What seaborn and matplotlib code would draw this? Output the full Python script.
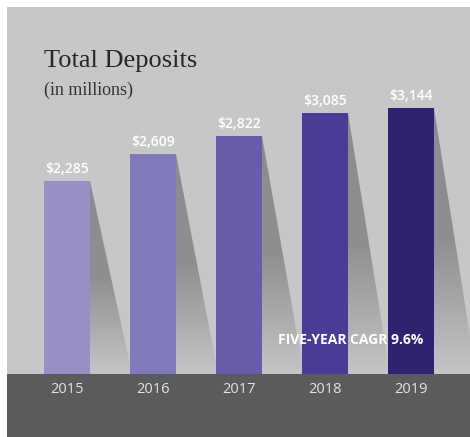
import numpy as np
import pandas as pd
import matplotlib
matplotlib.use("Agg")
import matplotlib.pyplot as plt
from matplotlib.patches import Rectangle, Polygon
from matplotlib.colors import LinearSegmentedColormap
import seaborn as sns

years = ["2015", "2016", "2017", "2018", "2019"]
deposits = [2285, 2609, 2822, 3085, 3144]
bar_colors = ["#9890c5", "#7f7bbb", "#6a5ba9", "#4b3b96", "#2e2271"]
title = "Total Deposits"
subtitle = "(in millions)"
cagr_note = "FIVE-YEAR CAGR 9.6%"

W, H = 470, 437
panel_bg = "#c6c7c9"
band_bg = "#5a5b5d"

sns.set_theme(style="white")
plt.rcParams["font.family"] = ["Open Sans", "DejaVu Sans"]

fig = plt.figure(figsize=(W / 100, H / 100), dpi=100, facecolor="white")

# plot area: gray panel above the dark year band
left, right, top, base = 7, 470, 7, 374
ax = fig.add_axes([left / W, 1 - base / H, (right - left) / W, (base - top) / H])
ax.set_facecolor(panel_bg)

# dark band holding the year labels (kept behind the axes' tick labels)
fig.patches.append(Rectangle((left / W, 0), (right - left) / W, (H - base) / H,
                             transform=fig.transFigure, facecolor=band_bg,
                             edgecolor="none", zorder=-1))

df = pd.DataFrame({"year": years, "deposits": deposits})
bar_w = 46 / 86
sns.barplot(data=df, x="year", y="deposits", hue="year", palette=bar_colors,
            dodge=False, legend=False, width=bar_w, saturation=1, ax=ax,
            zorder=3, edgecolor="none")

xmin = (left - 67) / 86
xmax = (right - 67) / 86
ymax = (base - top) / (193 / 2285)

# drop shadows: wedge from each bar's top-right corner, dark to light
shade = LinearSegmentedColormap.from_list("shade", ["#8b8c8e", "#8e8f91", "#c4c5c7"])
grad = np.linspace(0, 1, 256).reshape(-1, 1)
reach = 0.49
for i, v in enumerate(deposits):
    x0 = i + bar_w / 2
    poly = Polygon([(x0, v), (x0, 0), (x0 + reach, 0)], closed=True,
                   facecolor="none", edgecolor="none", transform=ax.transData)
    ax.add_patch(poly)
    im = ax.imshow(grad, cmap=shade, aspect="auto",
                   extent=(x0, x0 + reach, 0, v), origin="upper", zorder=2)
    im.set_clip_path(poly)

ax.set_xlim(xmin, xmax)
ax.set_ylim(0, ymax)

# value labels
for i, v in enumerate(deposits):
    ax.annotate(f"${v:,}", (i, v), xytext=(0, 5.8), textcoords="offset points",
                ha="center", va="baseline", color="white", fontsize=10,
                fontweight="semibold", zorder=5)

ax.set_xlabel("")
ax.set_ylabel("")
ax.set_yticks([])
ax.tick_params(axis="x", length=0, pad=6, labelsize=10.5, labelcolor="#e4e4e4")
for s in ax.spines.values():
    s.set_visible(False)

fig.text(44 / W, 1 - 67.5 / H, title, ha="left", va="baseline",
         fontsize=19, color="#262626", family=["Liberation Serif", "DejaVu Serif"])
fig.text(44 / W, 1 - 95 / H, subtitle, ha="left", va="baseline",
         fontsize=13, color="#333333", family=["Liberation Serif", "DejaVu Serif"])
fig.text(351 / W, 1 - 343.5 / H, cagr_note, ha="center", va="baseline",
         fontsize=10, color="white", fontweight="bold", zorder=6)

fig.savefig("out.png", dpi=100, facecolor="white")
